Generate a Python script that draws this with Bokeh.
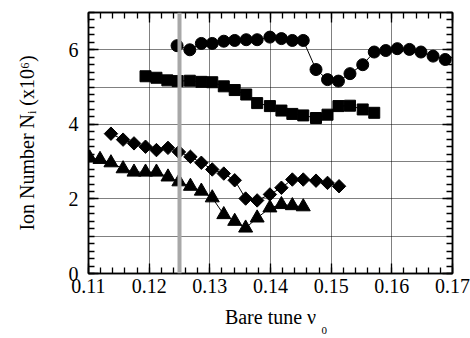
import math
from bokeh.plotting import figure
from bokeh.models import (LinearAxis, SingleIntervalTicker, NumeralTickFormatter,
                          Span, Range1d, Title)
from bokeh.embed import file_html
from bokeh.resources import INLINE

# ---------------- data ----------------
circ_x = [0.1246, 0.1267, 0.1286, 0.1304, 0.1323, 0.1341, 0.1360, 0.1378, 0.1399, 0.1418,
          0.1436, 0.1454, 0.1475, 0.1494, 0.1512, 0.1531, 0.1552, 0.1571, 0.1590, 0.1609,
          0.1629, 0.1648, 0.1668, 0.1688]
circ_y = [6.11, 6.00, 6.17, 6.17, 6.23, 6.25, 6.27, 6.27, 6.34, 6.30,
          6.25, 6.25, 5.47, 5.20, 5.16, 5.36, 5.60, 5.94, 5.98, 6.03,
          6.01, 5.94, 5.83, 5.74]

sq_x = [0.1194, 0.1212, 0.1230, 0.1247, 0.1267, 0.1286, 0.1304, 0.1323, 0.1341, 0.1360,
        0.1378, 0.1399, 0.1418, 0.1436, 0.1454, 0.1475, 0.1494, 0.1512, 0.1531, 0.1552,
        0.1571]
sq_y = [5.29, 5.25, 5.18, 5.16, 5.17, 5.14, 5.13, 5.02, 4.92, 4.80,
        4.57, 4.49, 4.37, 4.28, 4.24, 4.17, 4.26, 4.49, 4.50, 4.40,
        4.31]

dia_x = [0.1137, 0.1157, 0.1175, 0.1194, 0.1212, 0.1231, 0.1249, 0.1268, 0.1286, 0.1304,
         0.1323, 0.1341, 0.1359, 0.1378, 0.1399, 0.1418, 0.1436, 0.1454, 0.1475, 0.1494,
         0.1513]
dia_y = [3.75, 3.59, 3.49, 3.40, 3.31, 3.37, 3.26, 3.13, 2.97, 2.79,
         2.68, 2.50, 2.01, 1.96, 2.12, 2.30, 2.52, 2.52, 2.49, 2.43,
         2.34]

tri_x = [0.1102, 0.1119, 0.1137, 0.1157, 0.1175, 0.1194, 0.1212, 0.1231, 0.1249, 0.1268,
         0.1286, 0.1304, 0.1323, 0.1341, 0.1359, 0.1378, 0.1399, 0.1418, 0.1436, 0.1454]
tri_y = [3.10, 3.06, 2.97, 2.81, 2.72, 2.72, 2.72, 2.59, 2.46, 2.34,
         2.21, 2.03, 1.58, 1.40, 1.22, 1.49, 1.76, 1.85, 1.82, 1.79]

marker_line = 0.125
x_range = (0.11, 0.17)
y_range = (0.0, 7.0)
x_title = "Bare tune \u03bd"
x_title_sub = "0"
y_title = "Ion Number N\u1d62 (x10\u2076)"

# ---------------- layout ----------------
LEFT, TOP, FW, FH = 88, 12, 364, 261
W, H = 470, 338
FONT = "Liberation Serif"

p = figure(frame_width=FW, frame_height=FH,
           min_border_left=LEFT, min_border_top=TOP,
           min_border_right=W - LEFT - FW, min_border_bottom=H - TOP - FH,
           x_range=Range1d(*x_range), y_range=Range1d(*y_range),
           output_backend="svg", toolbar_location=None,
           background_fill_color="white", border_fill_color="white")
p.outline_line_color = "black"
p.outline_line_width = 1.5


def style_axis(ax, show_labels):
    ax.axis_line_color = "black"
    ax.axis_line_width = 1.5
    ax.major_tick_in = 10
    ax.major_tick_out = 0
    ax.minor_tick_in = 6
    ax.minor_tick_out = 0
    ax.major_tick_line_color = "black"
    ax.minor_tick_line_color = "black"
    ax.major_tick_line_width = 1.3
    ax.minor_tick_line_width = 1.3
    if show_labels:
        ax.major_label_text_font = FONT
        ax.major_label_text_font_size = "20px"
        ax.major_label_text_color = "black"
    else:
        ax.major_label_text_font_size = "1px"
        ax.major_label_text_color = None
        ax.major_label_standoff = 0


p.xaxis.ticker = SingleIntervalTicker(interval=0.01, num_minor_ticks=5)
p.xaxis.formatter = NumeralTickFormatter(format="0.00")
p.yaxis.ticker = SingleIntervalTicker(interval=2, num_minor_ticks=10)
p.yaxis.formatter = NumeralTickFormatter(format="0")
style_axis(p.xaxis[0], True)
style_axis(p.yaxis[0], True)
p.xaxis.major_label_standoff = 5
p.yaxis.major_label_standoff = 10

for ax in (p.xaxis[0], p.yaxis[0]):
    ax.axis_label_text_font = FONT
    ax.axis_label_text_font_size = "20px"
    ax.axis_label_text_font_style = "normal"
    ax.axis_label_text_color = "black"
p.xaxis.axis_label = x_title
p.xaxis.axis_label_standoff = 10
p.yaxis.axis_label = y_title
p.yaxis.axis_label_standoff = 28

top_ax = LinearAxis(ticker=SingleIntervalTicker(interval=0.01, num_minor_ticks=5))
right_ax = LinearAxis(ticker=SingleIntervalTicker(interval=2, num_minor_ticks=10))
style_axis(top_ax, False)
style_axis(right_ax, False)
p.add_layout(top_ax, "above")
p.add_layout(right_ax, "right")

sub_title = Title(text=x_title_sub, align="left", offset=233,
                  text_font=FONT, text_font_size="11px",
                  text_font_style="normal", text_color="black")
try:
    sub_title.standoff = -8
    sub_title.vertical_align = "top"
except Exception:
    sub_title.standoff = 0
    sub_title.vertical_align = "top"
p.add_layout(sub_title, "below")

p.xgrid.ticker = SingleIntervalTicker(interval=0.01)
p.ygrid.ticker = SingleIntervalTicker(interval=1)
for g in (p.xgrid[0], p.ygrid[0]):
    g.grid_line_color = "black"
    g.grid_line_dash = "1 1"
    g.grid_line_width = 1

# ---------------- series ----------------
p.line(circ_x, circ_y, line_color="black", line_width=1)
p.scatter(circ_x, circ_y, marker="circle", size=12, fill_color="black", line_color="black")

p.line(sq_x, sq_y, line_color="black", line_width=1)
p.scatter(sq_x, sq_y, marker="square", size=11, fill_color="black", line_color="black")

p.line(dia_x, dia_y, line_color="black", line_width=1)
p.scatter(dia_x, dia_y, marker="square", angle=math.pi / 4, size=9.5,
          fill_color="black", line_color="black")

p.line(tri_x, tri_y, line_color="black", line_width=1)
p.scatter(tri_x, tri_y, marker="triangle", size=14, fill_color="black", line_color="black")

p.add_layout(Span(location=marker_line, dimension="height", line_color="#a8a8a8", line_width=4))

open("out.html", "w").write(file_html(p, INLINE))
